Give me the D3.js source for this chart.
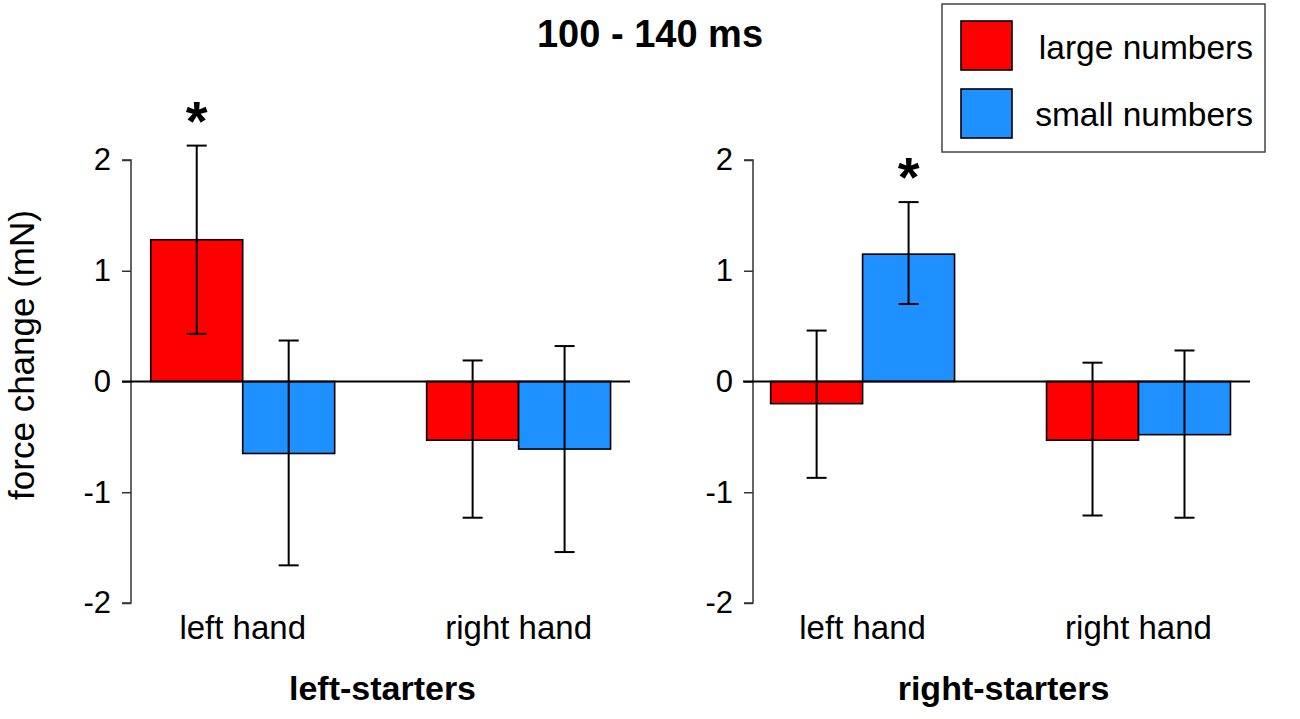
<!DOCTYPE html>
<html>
<head>
<meta charset="utf-8">
<script src="https://cdn.jsdelivr.net/npm/d3@7"></script>
<style>
  html, body { margin: 0; padding: 0; background: #fff; }
  svg { display: block; font-family: "Liberation Sans", Arial, sans-serif; }
</style>
</head>
<body>
<svg id="chart" width="1300" height="719"></svg>
<script>
// ---------- data ----------
const title = "100 - 140 ms";
const yLabel = "force change (mN)";
const panels = ["left-starters", "right-starters"];
const hands = ["left hand", "right hand"];
const seriesNames = ["large numbers", "small numbers"];
const seriesColors = ["#ff0000", "#1e90ff"];
const yTicks = [-2, -1, 0, 1, 2];

// means: [panel][hand][series]
const leftStartersMeans  = [[1.28, -0.65], [-0.53, -0.61]];
const rightStartersMeans = [[-0.20, 1.15], [-0.53, -0.48]];
// error bar upper / lower ends
const leftStartersUpper  = [[2.13, 0.37], [0.19, 0.32]];
const leftStartersLower  = [[0.43, -1.66], [-1.23, -1.54]];
const rightStartersUpper = [[0.46, 1.62], [0.17, 0.28]];
const rightStartersLower = [[-0.87, 0.70], [-1.21, -1.23]];
// significance markers: [panel, hand, series]
const significant = [[0, 0, 0], [1, 0, 1]];

// ---------- layout ----------
const svg = d3.select("#chart");
const y = d3.scaleLinear().domain([-2, 2]).range([603, 160]);

const panelLayout = [
  { axisX: 131, lineX0: 122, lineX1: 630, c0: 242.7, c1: 518.6 },
  { axisX: 753, lineX0: 743, lineX1: 1250, c0: 862.6, c1: 1138.5 }
];
const means = [leftStartersMeans, rightStartersMeans];
const uppers = [leftStartersUpper, rightStartersUpper];
const lowers = [leftStartersLower, rightStartersLower];

panels.forEach((pname, pi) => {
  const L = panelLayout[pi];
  const step = L.c1 - L.c0;
  const x = d3.scaleBand().domain(hands)
    .range([L.c0 - step / 2, L.c1 + step / 2])
    .paddingInner(1 / 3).paddingOuter(1 / 6);
  const xs = d3.scaleBand().domain(seriesNames).range([0, x.bandwidth()]);

  const g = svg.append("g");

  // y axis
  const axis = d3.axisLeft(y).tickValues(yTicks).tickSize(9).tickPadding(11)
    .tickFormat(d => String(d));
  const ag = g.append("g").attr("transform", `translate(${L.axisX},0)`).call(axis);
  ag.attr("font-size", 31).attr("font-family", "Liberation Sans, Arial, sans-serif");
  ag.select(".domain").attr("stroke", "#333").attr("stroke-width", 1.5)
    .attr("d", `M-9,${y(2)}H0V${y(-2)}H-9`);
  ag.selectAll(".tick line").attr("stroke", "#333").attr("stroke-width", 1.5);
  ag.selectAll(".tick text").attr("fill", "#000");

  // bars
  hands.forEach((h, hi) => {
    seriesNames.forEach((s, si) => {
      const v = means[pi][hi][si];
      const bx = x(h) + xs(s);
      g.append("rect")
        .attr("x", bx).attr("width", xs.bandwidth())
        .attr("y", Math.min(y(v), y(0)))
        .attr("height", Math.abs(y(v) - y(0)))
        .attr("fill", seriesColors[si])
        .attr("stroke", "#000").attr("stroke-width", 1.6);
    });
  });

  // zero line
  g.append("line").attr("x1", L.lineX0).attr("x2", L.lineX1)
    .attr("y1", y(0)).attr("y2", y(0))
    .attr("stroke", "#000").attr("stroke-width", 2);

  // error bars
  hands.forEach((h, hi) => {
    seriesNames.forEach((s, si) => {
      const cx = x(h) + xs(s) + xs.bandwidth() / 2;
      const up = uppers[pi][hi][si], lo = lowers[pi][hi][si];
      const eg = g.append("g").attr("stroke", "#000").attr("stroke-width", 2);
      eg.append("line").attr("x1", cx).attr("x2", cx).attr("y1", y(up)).attr("y2", y(lo));
      eg.append("line").attr("x1", cx - 10).attr("x2", cx + 10).attr("y1", y(up)).attr("y2", y(up));
      eg.append("line").attr("x1", cx - 10).attr("x2", cx + 10).attr("y1", y(lo)).attr("y2", y(lo));
    });
  });

  // significance asterisks
  significant.filter(d => d[0] === pi).forEach(d => {
    const cx = x(hands[d[1]]) + xs(seriesNames[d[2]]) + xs.bandwidth() / 2;
    const top = y(uppers[pi][d[1]][d[2]]);
    g.append("text").attr("x", cx).attr("y", top - 38 + 32)
      .attr("text-anchor", "middle").attr("font-size", 56).attr("font-weight", "bold")
      .text("*");
  });

  // category labels
  hands.forEach(h => {
    g.append("text").attr("x", x(h) + x.bandwidth() / 2).attr("y", 639)
      .attr("text-anchor", "middle").attr("font-size", 33).text(h);
  });

  // panel label
  g.append("text").attr("x", (L.axisX + L.lineX1) / 2 + 2).attr("y", 700)
    .attr("text-anchor", "middle").attr("font-size", 34).attr("font-weight", "bold")
    .text(pname);
});

// y label
svg.append("text")
  .attr("transform", "translate(34,355) rotate(-90)")
  .attr("text-anchor", "middle").attr("font-size", 35).text(yLabel);

// title
svg.append("text").attr("x", 650).attr("y", 47)
  .attr("text-anchor", "middle").attr("font-size", 38).attr("font-weight", "bold")
  .text(title);

// legend
const lg = svg.append("g");
lg.append("rect").attr("x", 942).attr("y", 4).attr("width", 323).attr("height", 148)
  .attr("fill", "#fff").attr("stroke", "#444").attr("stroke-width", 1.5);
seriesNames.forEach((s, i) => {
  lg.append("rect").attr("x", 961).attr("y", 21 + i * 68).attr("width", 51).attr("height", 49)
    .attr("fill", seriesColors[i]).attr("stroke", "#000").attr("stroke-width", 1.6);
  lg.append("text").attr("x", 1253).attr("y", 59 + i * 67)
    .attr("text-anchor", "end").attr("font-size", 33.5).text(s);
});
</script>
</body>
</html>
